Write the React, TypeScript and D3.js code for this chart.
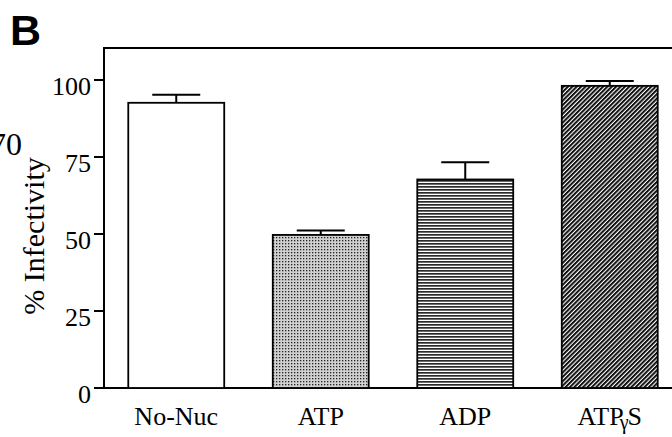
import React from "react";
import * as d3 from "d3";

// % infectivity per nucleotide treatment
const categories = ["No-Nuc", "ATP", "ADP", "ATPγS"];
const values = [92.6, 49.7, 67.7, 98.1];
const errors = [2.6, 1.4, 5.6, 1.6];
const fills = ["white", "url(#dots)", "url(#hstripes)", "url(#diag)"];
const yTicks = [0, 25, 50, 75, 100];

const W = 672;
const H = 437;
const left = 104, top = 48, bottom = 388, right = 682;

export default function App() {
  const x = d3.scaleBand<string>()
    .domain(categories)
    .range([left, right])
    .paddingInner(0.336)
    .paddingOuter(0.168);
  const y = d3.scaleLinear().domain([0, 100]).range([bottom, 80]);
  const serif = "'Liberation Serif', 'Times New Roman', serif";

  return (
    <svg width={W} height={H} style={{ position: "absolute", left: 0, top: 0 }}>
      <defs>
        <pattern id="dots" width="3" height="3" patternUnits="userSpaceOnUse">
          <rect width="3" height="3" fill="#d0d0d0" />
          <rect width="1.3" height="1.3" fill="#222" />
        </pattern>
        <pattern id="hstripes" width="6" height="3" patternUnits="userSpaceOnUse">
          <rect width="6" height="3" fill="white" />
          <rect width="6" height="1.7" fill="#2a2a2a" />
        </pattern>
        <pattern id="diag" width="3.1" height="6" patternUnits="userSpaceOnUse" patternTransform="rotate(45)">
          <rect width="3.1" height="6" fill="white" />
          <rect width="2" height="6" fill="#111" />
        </pattern>
      </defs>

      <text x={10} y={45} fontFamily="'Liberation Sans', Arial, sans-serif" fontWeight="bold" fontSize={43}>B</text>
      <text x={22} y={155} textAnchor="end" fontFamily={serif} fontSize={32}>70</text>

      {/* frame */}
      <path d={`M${right},${top}H${left}V${bottom}H${right}`} fill="none" stroke="black" strokeWidth={2} />

      {/* y axis ticks */}
      {yTicks.map(t => (
        <g key={t}>
          <line x1={94} x2={left} y1={y(t)} y2={y(t)} stroke="black" strokeWidth={2} />
          <text x={91} y={y(t) + 15} textAnchor="end" fontFamily={serif} fontSize={26}>{t}</text>
        </g>
      ))}

      <text transform={`translate(44,236) rotate(-90)`} textAnchor="middle" fontFamily={serif} fontSize={30}>% Infectivity</text>

      {/* bars */}
      {categories.map((c, i) => {
        const bx = x(c)!;
        const cx = bx + x.bandwidth() / 2;
        return (
          <g key={c}>
            <rect x={bx} y={y(values[i])} width={x.bandwidth()} height={bottom - y(values[i])}
              fill={fills[i]} stroke="black" strokeWidth={1.8} />
            <line x1={cx} x2={cx} y1={y(values[i])} y2={y(values[i] + errors[i])} stroke="black" strokeWidth={2} />
            <line x1={cx - 24} x2={cx + 24} y1={y(values[i] + errors[i])} y2={y(values[i] + errors[i])} stroke="black" strokeWidth={2} />
          </g>
        );
      })}

      {/* x labels */}
      {categories.map(c => {
        const cx = x(c)! + x.bandwidth() / 2;
        if (c === "ATPγS") {
          return (
            <text key={c} x={cx} y={425} textAnchor="middle" fontFamily={serif} fontSize={26}>
              ATP<tspan fontSize={20} dx={-4} dy={4}>γ</tspan><tspan dx={-1} dy={-4}>S</tspan>
            </text>
          );
        }
        return <text key={c} x={cx} y={425} textAnchor="middle" fontFamily={serif} fontSize={26}>{c}</text>;
      })}
    </svg>
  );
}
